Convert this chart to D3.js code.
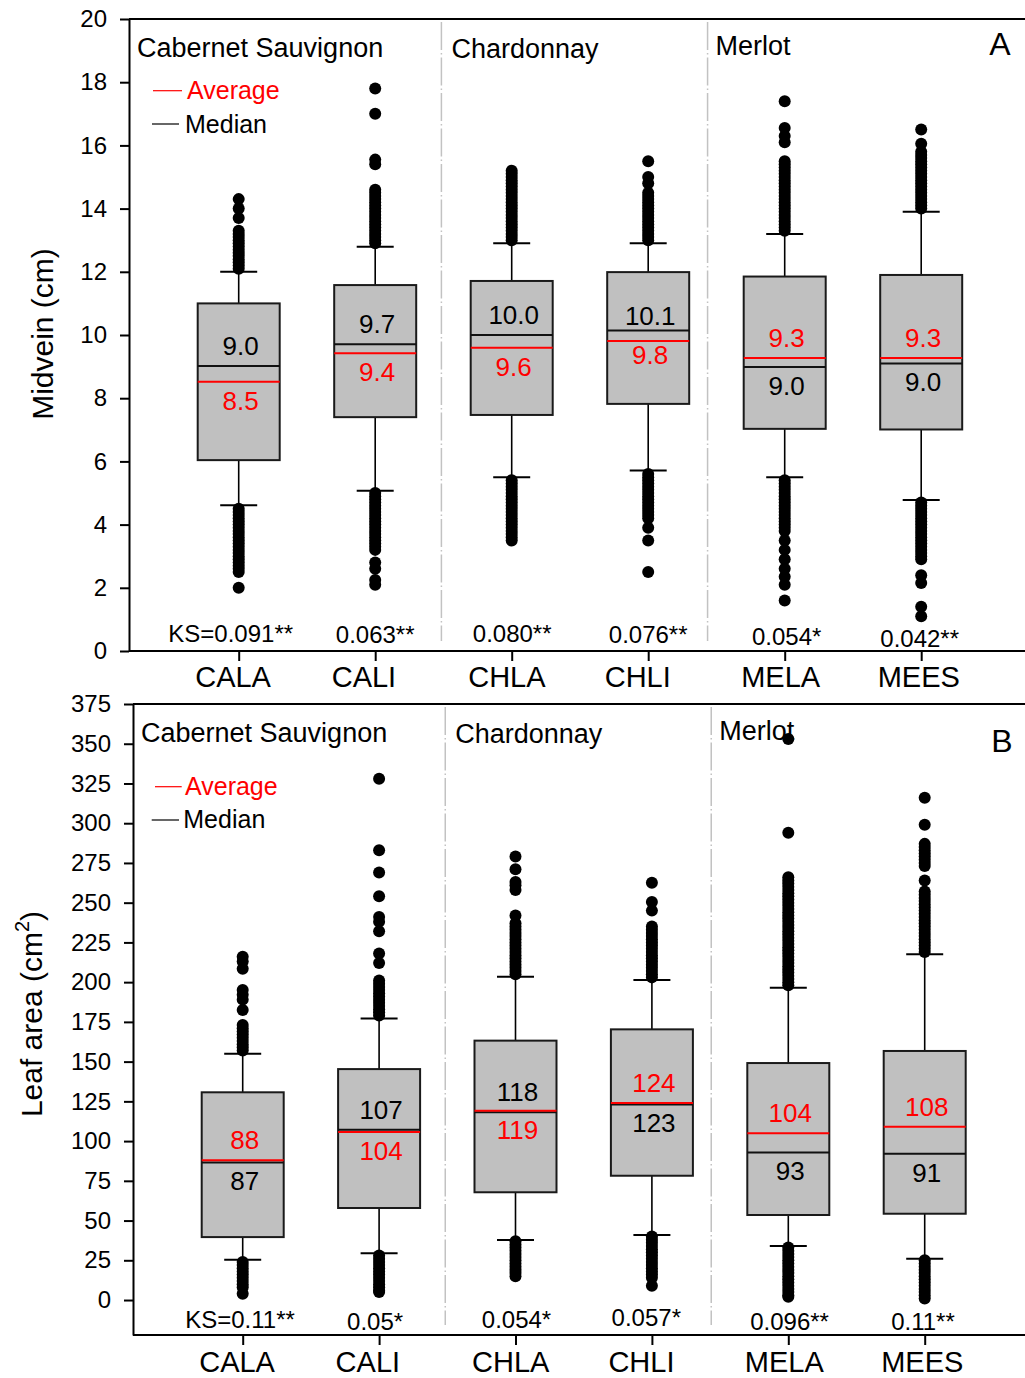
<!DOCTYPE html>
<html><head><meta charset="utf-8">
<script src="https://cdn.jsdelivr.net/npm/d3@7"></script>
<style>
body{margin:0;background:#fff}
svg{display:block;font-family:"Liberation Sans",Arial,sans-serif}
</style>
</head><body>
<svg id="chart" width="1025" height="1378"></svg>
<script>
// ---------------- DATA ----------------
const categories = ["CALA", "CALI", "CHLA", "CHLI", "MELA", "MEES"];
const varieties = ["Cabernet Sauvignon", "Chardonnay", "Merlot"];

// Panel A: Midvein (cm)
const midTicks = [0, 2, 4, 6, 8, 10, 12, 14, 16, 18, 20];
const midQ1 = [6.04, 7.40, 7.47, 7.82, 7.03, 7.01];
const midQ3 = [11.0, 11.58, 11.71, 11.99, 11.85, 11.9];
const midMedian = [9.02, 9.71, 10.0, 10.14, 8.99, 9.1];
const midMean = [8.52, 9.42, 9.6, 9.81, 9.27, 9.27];
const midWhiskerLo = [4.61, 5.07, 5.5, 5.71, 5.5, 4.78];
const midWhiskerHi = [12.0, 12.79, 12.9, 12.9, 13.2, 13.9];
const midMedianLabel = ["9.0", "9.7", "10.0", "10.1", "9.0", "9.0"];
const midMeanLabel = ["8.5", "9.4", "9.6", "9.8", "9.3", "9.3"];
const midTopLabel = ["median", "median", "median", "median", "mean", "mean"];
const midKS = ["KS=0.091**", "0.063**", "0.080**", "0.076**", "0.054*", "0.042**"];
const midOutliers = [
  [12.1,12.2,12.3,12.4,12.5,12.6,12.7,12.8,12.9,13.0,13.1,13.2,13.3,13.7,14.0,14.3,
   4.5,4.4,4.3,4.2,4.1,4.0,3.9,3.8,3.7,3.6,3.5,3.4,3.3,3.2,3.1,3.0,2.9,2.8,2.7,2.6,2.5,2.0],
  [12.9,13.0,13.1,13.2,13.3,13.4,13.5,13.6,13.7,13.8,13.9,14.0,14.1,14.2,14.3,14.4,14.5,14.6,15.4,15.55,17.0,17.8,
   5.0,4.9,4.8,4.7,4.6,4.5,4.4,4.3,4.2,4.1,4.0,3.9,3.8,3.7,3.6,3.5,3.4,3.3,3.2,2.8,2.6,2.25,2.1],
  [13.0,13.1,13.2,13.3,13.4,13.5,13.6,13.7,13.8,13.9,14.0,14.1,14.2,14.3,14.4,14.5,14.6,14.7,14.8,14.9,15.0,15.1,15.2,
   5.4,5.3,5.2,5.1,5.0,4.9,4.8,4.7,4.6,4.5,4.4,4.3,4.2,4.1,4.0,3.9,3.8,3.7,3.6,3.5],
  [13.0,13.1,13.2,13.3,13.4,13.5,13.6,13.7,13.8,13.9,14.0,14.1,14.2,14.3,14.4,14.5,14.8,15.0,15.5,
   5.6,5.5,5.4,5.3,5.2,5.1,5.0,4.9,4.8,4.7,4.6,4.5,4.4,4.3,4.2,3.9,3.5,2.5],
  [13.3,13.4,13.5,13.6,13.7,13.8,13.9,14.0,14.1,14.2,14.3,14.4,14.5,14.6,14.7,14.8,14.9,15.0,15.1,15.2,15.3,15.4,15.5,16.1,16.3,16.55,17.4,
   5.4,5.3,5.2,5.1,5.0,4.9,4.8,4.7,4.6,4.5,4.4,4.3,4.2,4.1,4.0,3.9,3.8,3.5,3.2,2.9,2.6,2.35,2.1,1.6],
  [14.0,14.1,14.2,14.3,14.4,14.5,14.6,14.7,14.8,14.9,15.0,15.1,15.2,15.3,15.4,15.5,15.6,15.7,15.8,16.05,16.5,
   4.7,4.6,4.5,4.4,4.3,4.2,4.1,4.0,3.9,3.8,3.7,3.6,3.5,3.4,3.3,3.2,3.1,3.0,2.9,2.4,2.15,1.4,1.1]
];

// Panel B: Leaf area (cm2)
const leafTicks = [0, 25, 50, 75, 100, 125, 150, 175, 200, 225, 250, 275, 300, 325, 350, 375];
const leafQ1 = [39.6, 57.9, 67.8, 78.2, 53.5, 54.3];
const leafQ3 = [130.7, 145.3, 163.2, 170.3, 149.1, 156.7];
const leafMedian = [86.6, 107.2, 118.1, 123.1, 92.9, 92.1];
const leafMean = [87.9, 105.7, 119.1, 124.0, 104.9, 109.0];
const leafWhiskerLo = [25.4, 29.4, 37.8, 40.9, 34.0, 26.0];
const leafWhiskerHi = [155.0, 177.2, 203.4, 201.3, 196.5, 217.5];
const leafMedianLabel = ["87", "107", "118", "123", "93", "91"];
const leafMeanLabel = ["88", "104", "119", "124", "104", "108"];
const leafTopLabel = ["mean", "median", "median", "mean", "mean", "mean"];
const leafKS = ["KS=0.11**", "0.05*", "0.054*", "0.057*", "0.096**", "0.11**"];
const leafOutliers = [
  [157,159,161,163,165,167,169,171,173,182.5,189,192,195,208.5,213,216,
   24,22,20,18,16,14,12,10,8,4],
  [179,181,183,185,187,189,191,193,195,197,199,201,212,218,232,238,241,254,269,283,328,
   28,26,24,22,20,18,16,14,12,10,8,6,5],
  [205,207,209,211,213,215,217,219,221,223,225,227,229,231,233,235,237,242,258,261,263,271,279,
   37,35,33,31,29,27,25,23,21,19,17,15],
  [203,205,207,209,211,213,215,217,219,221,223,225,227,229,231,233,235,245,250.5,262.5,
   40,38,36,34,32,30,28,26,24,22,20,18,16,14,9],
  [198,200,202,204,206,208,210,212,214,216,218,220,222,224,226,228,230,232,234,236,238,240,242,244,246,248,250,252,254,256,258,260,262,264,266,294,353,
   33,31,29,27,25,23,21,19,17,15,13,11,9,7,5,3,2],
  [219,221,223,225,227,229,231,233,235,237,239,241,243,245,247,249,251,253,255,257,264,273,275,277,279,281,283,285,287,299,316,
   25,23,21,19,17,15,13,11,9,7,5,3,1]
];

// ---------------- LAYOUT ----------------
const panels = [
  {
    top: 19, bottom: 651, axisX: 129, xRange: [238.7, 921.2], yDomain: [0, 20], ticks: midTicks,
    q1: midQ1, q3: midQ3, median: midMedian, mean: midMean, wLo: midWhiskerLo, wHi: midWhiskerHi,
    medianLabel: midMedianLabel, meanLabel: midMeanLabel, topLabel: midTopLabel, ks: midKS, outliers: midOutliers,
    labelNudge: [0, 0, 0, 5, 0, 0],
    ksDx: [-8, 0, 0.5, 0, 2, -1.5], ksDy: [-9.3, -8, -9, -7.7, -6, -3.7],
    catBaseline: 35.7, varietyBaselines: [57, 58, 55],
    legend: {avgY: 90.7, avgX: [153, 182], avgTx: 187, avgTy: 99, medY: 124, medX: [152, 179], medTx: 185, medTy: 133},
    letter: "A", letterX: 1000, letterY: 55,
    ylabel: {x: 53, y: 334, text: "Midvein (cm)", sup: null}
  },
  {
    top: 704, bottom: 1335, axisX: 133, xRange: [242.7, 924.7], yDomain: [-22, 375], ticks: leafTicks,
    q1: leafQ1, q3: leafQ3, median: leafMedian, mean: leafMean, wLo: leafWhiskerLo, wHi: leafWhiskerHi,
    medianLabel: leafMedianLabel, meanLabel: leafMeanLabel, topLabel: leafTopLabel, ks: leafKS, outliers: leafOutliers,
    labelNudge: [0, 0, 0, 0, 0, 0],
    ksDx: [-2.7, -4, 1, -5.6, 1.3, -1.7], ksDy: [-7, -5, -7, -9, -5, -5],
    catBaseline: 36.5, varietyBaselines: [741.7, 743, 740],
    legend: {avgY: 786.7, avgX: [155, 181.7], avgTx: 185, avgTy: 795, medY: 820, medX: [151.7, 179], medTx: 183.3, medTy: 828},
    letter: "B", letterX: 1002, letterY: 751.7,
    ylabel: {x: 41.5, y: 1014, text: "Leaf area (cm", sup: "2"}
  }
];
const sepIndex = [2.485, 4.435];

const svg = d3.select("#chart");

function drawPanel(p) {
  const g = svg.append("g");
  const y = d3.scaleLinear().domain(p.yDomain).range([p.bottom, p.top]);
  const x = d3.scalePoint().domain(categories).range(p.xRange);
  const xi = d3.scaleLinear().domain([1, 6]).range(p.xRange);

  // group separators
  g.selectAll("line.sep").data(sepIndex).join("line")
    .attr("class", "sep")
    .attr("x1", d => xi(d)).attr("x2", d => xi(d))
    .attr("y1", p.top + 3).attr("y2", p.bottom - 10)
    .attr("stroke", "#c2c2c2").attr("stroke-width", 1.5)
    .attr("stroke-dasharray", "28,3,1.5,3");

  // frame lines (top and bottom)
  g.append("line").attr("x1", p.axisX).attr("x2", 1025).attr("y1", p.top).attr("y2", p.top)
    .attr("stroke", "#000").attr("stroke-width", 2);
  g.append("line").attr("x1", p.axisX).attr("x2", 1025).attr("y1", p.bottom).attr("y2", p.bottom)
    .attr("stroke", "#000").attr("stroke-width", 2);

  // y axis
  const ya = g.append("g").attr("transform", `translate(${p.axisX},0)`)
    .call(d3.axisLeft(y).tickValues(p.ticks).tickSize(9).tickPadding(13).tickSizeOuter(0));
  ya.select(".domain").attr("stroke", "#000").attr("stroke-width", 2);
  ya.selectAll(".tick line").attr("stroke", "#000").attr("stroke-width", 2);
  ya.selectAll(".tick text").attr("font-size", 24).attr("fill", "#000")
    .attr("font-family", "'Liberation Sans', Arial, sans-serif");

  // x axis
  const xa = g.append("g").attr("transform", `translate(0,${p.bottom})`)
    .call(d3.axisBottom(x).tickSize(10).tickSizeOuter(0));
  xa.select(".domain").remove();
  xa.selectAll(".tick line").attr("stroke", "#000").attr("stroke-width", 2);
  xa.selectAll(".tick text").attr("font-size", 29).attr("fill", "#000")
    .attr("font-family", "'Liberation Sans', Arial, sans-serif")
    .attr("text-anchor", "start").attr("x", -44).attr("y", p.catBaseline).attr("dy", 0);

  const idx = d3.range(categories.length);
  const bw = 82, cw = 37;

  // whiskers
  g.selectAll("line.wh").data(idx).join("line").attr("class", "wh")
    .attr("x1", i => x(categories[i])).attr("x2", i => x(categories[i]))
    .attr("y1", i => y(p.q3[i])).attr("y2", i => y(p.wHi[i]))
    .attr("stroke", "#000").attr("stroke-width", 1.6);
  g.selectAll("line.wl").data(idx).join("line").attr("class", "wl")
    .attr("x1", i => x(categories[i])).attr("x2", i => x(categories[i]))
    .attr("y1", i => y(p.q1[i])).attr("y2", i => y(p.wLo[i]))
    .attr("stroke", "#000").attr("stroke-width", 1.6);
  g.selectAll("line.ch").data(idx).join("line").attr("class", "ch")
    .attr("x1", i => x(categories[i]) - cw / 2).attr("x2", i => x(categories[i]) + cw / 2)
    .attr("y1", i => y(p.wHi[i])).attr("y2", i => y(p.wHi[i]))
    .attr("stroke", "#000").attr("stroke-width", 2);
  g.selectAll("line.cl").data(idx).join("line").attr("class", "cl")
    .attr("x1", i => x(categories[i]) - cw / 2).attr("x2", i => x(categories[i]) + cw / 2)
    .attr("y1", i => y(p.wLo[i])).attr("y2", i => y(p.wLo[i]))
    .attr("stroke", "#000").attr("stroke-width", 2);

  // boxes
  g.selectAll("rect.box").data(idx).join("rect").attr("class", "box")
    .attr("x", i => x(categories[i]) - bw / 2).attr("width", bw)
    .attr("y", i => y(p.q3[i])).attr("height", i => y(p.q1[i]) - y(p.q3[i]))
    .attr("fill", "#c0c0c0").attr("stroke", "#1a1a1a").attr("stroke-width", 2);

  // median & mean lines
  g.selectAll("line.med").data(idx).join("line").attr("class", "med")
    .attr("x1", i => x(categories[i]) - bw / 2).attr("x2", i => x(categories[i]) + bw / 2)
    .attr("y1", i => y(p.median[i])).attr("y2", i => y(p.median[i]))
    .attr("stroke", "#111").attr("stroke-width", 2);
  g.selectAll("line.mean").data(idx).join("line").attr("class", "mean")
    .attr("x1", i => x(categories[i]) - bw / 2).attr("x2", i => x(categories[i]) + bw / 2)
    .attr("y1", i => y(p.mean[i])).attr("y2", i => y(p.mean[i]))
    .attr("stroke", "#ff0000").attr("stroke-width", 2);

  // outliers
  idx.forEach(i => {
    g.append("g").selectAll("circle").data(p.outliers[i]).join("circle")
      .attr("cx", x(categories[i])).attr("cy", d => y(d)).attr("r", 6).attr("fill", "#000");
  });

  // box labels
  idx.forEach(i => {
    const topIsMedian = p.topLabel[i] === "median";
    const topVal = topIsMedian ? p.median[i] : p.mean[i];
    const botVal = topIsMedian ? p.mean[i] : p.median[i];
    const topTxt = topIsMedian ? p.medianLabel[i] : p.meanLabel[i];
    const botTxt = topIsMedian ? p.meanLabel[i] : p.medianLabel[i];
    const cx = x(categories[i]) + 2;
    g.append("text").attr("x", cx).attr("y", y(topVal) - 11 + p.labelNudge[i])
      .attr("text-anchor", "middle").attr("font-size", 26)
      .attr("fill", topIsMedian ? "#000" : "#ff0000").text(topTxt);
    g.append("text").attr("x", cx).attr("y", y(botVal) + 28 - p.labelNudge[i])
      .attr("text-anchor", "middle").attr("font-size", 26)
      .attr("fill", topIsMedian ? "#ff0000" : "#000").text(botTxt);
  });

  // KS labels
  g.selectAll("text.ks").data(idx).join("text").attr("class", "ks")
    .attr("x", i => x(categories[i]) + p.ksDx[i]).attr("y", i => p.bottom + p.ksDy[i])
    .attr("text-anchor", "middle").attr("font-size", 24).attr("fill", "#000")
    .text(i => p.ks[i]);

  // variety labels
  const vx = [p.axisX + 8, xi(sepIndex[0]) + 10, xi(sepIndex[1]) + 8];
  g.selectAll("text.var").data(varieties).join("text").attr("class", "var")
    .attr("x", (d, k) => vx[k]).attr("y", (d, k) => p.varietyBaselines[k])
    .attr("font-size", 27).attr("fill", "#000").text(d => d);

  // legend
  const L = p.legend;
  g.append("line").attr("x1", L.avgX[0]).attr("x2", L.avgX[1]).attr("y1", L.avgY).attr("y2", L.avgY)
    .attr("stroke", "#ff0000").attr("stroke-width", 1.2);
  g.append("text").attr("x", L.avgTx).attr("y", L.avgTy).attr("font-size", 25).attr("fill", "#ff0000").text("Average");
  g.append("line").attr("x1", L.medX[0]).attr("x2", L.medX[1]).attr("y1", L.medY).attr("y2", L.medY)
    .attr("stroke", "#000").attr("stroke-width", 1.2);
  g.append("text").attr("x", L.medTx).attr("y", L.medTy).attr("font-size", 25).attr("fill", "#000").text("Median");

  // panel letter
  g.append("text").attr("x", p.letterX).attr("y", p.letterY).attr("text-anchor", "middle")
    .attr("font-size", 32).attr("fill", "#000").text(p.letter);

  // y label
  const yl = g.append("text").attr("transform", `translate(${p.ylabel.x},${p.ylabel.y}) rotate(-90)`)
    .attr("text-anchor", "middle").attr("font-size", 30).attr("fill", "#000");
  yl.append("tspan").text(p.ylabel.text);
  if (p.ylabel.sup) {
    yl.append("tspan").attr("font-size", 20).attr("dy", -13).text(p.ylabel.sup);
    yl.append("tspan").attr("dy", 13).text(")");
  }
}

panels.forEach(drawPanel);
</script>
</body></html>
